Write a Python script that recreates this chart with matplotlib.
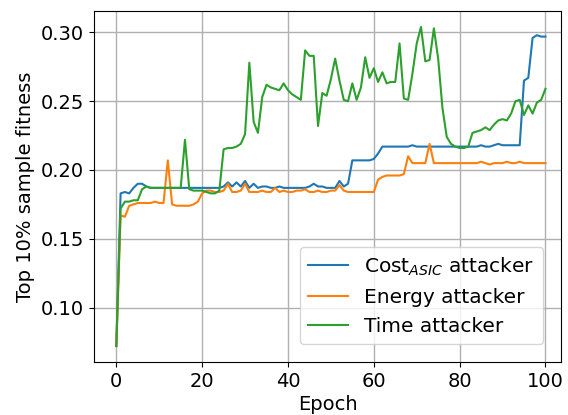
import numpy as np
import matplotlib
matplotlib.use("Agg")
import matplotlib.pyplot as plt

# 训练轮次
epochs = np.arange(0, 101)

# Cost_ASIC attacker
cost_asic = [
    0.072, 0.183, 0.184, 0.183, 0.187, 0.190, 0.190, 0.188, 0.187, 0.187,
    0.187, 0.187, 0.187, 0.187, 0.187, 0.187, 0.187, 0.187, 0.187, 0.187,
    0.187, 0.187, 0.187, 0.187, 0.187, 0.188, 0.191, 0.188, 0.191, 0.188,
    0.192, 0.187, 0.190, 0.187, 0.188, 0.188, 0.187, 0.187, 0.188, 0.187,
    0.187, 0.187, 0.187, 0.187, 0.187, 0.188, 0.190, 0.188, 0.188, 0.187,
    0.187, 0.187, 0.192, 0.188, 0.190, 0.207, 0.207, 0.207, 0.207, 0.207,
    0.208, 0.212, 0.217, 0.217, 0.217, 0.217, 0.217, 0.217, 0.217, 0.218,
    0.217, 0.217, 0.217, 0.217, 0.217, 0.217, 0.217, 0.217, 0.217, 0.217,
    0.217, 0.217, 0.217, 0.217, 0.217, 0.218, 0.217, 0.217, 0.218, 0.219,
    0.218, 0.218, 0.218, 0.218, 0.218, 0.265, 0.267, 0.296, 0.298, 0.297,
    0.297,
]

# Energy attacker
energy = [
    0.072, 0.167, 0.166, 0.174, 0.175, 0.176, 0.176, 0.176, 0.176, 0.177,
    0.176, 0.176, 0.207, 0.175, 0.174, 0.174, 0.174, 0.174, 0.175, 0.177,
    0.183, 0.185, 0.185, 0.184, 0.184, 0.185, 0.190, 0.184, 0.184, 0.185,
    0.190, 0.184, 0.184, 0.184, 0.185, 0.184, 0.184, 0.187, 0.184, 0.185,
    0.184, 0.184, 0.185, 0.185, 0.186, 0.184, 0.184, 0.185, 0.184, 0.184,
    0.185, 0.185, 0.189, 0.185, 0.184, 0.184, 0.184, 0.184, 0.184, 0.184,
    0.184, 0.193, 0.195, 0.196, 0.196, 0.196, 0.196, 0.197, 0.210, 0.205,
    0.205, 0.205, 0.205, 0.219, 0.205, 0.205, 0.205, 0.205, 0.205, 0.205,
    0.205, 0.205, 0.205, 0.205, 0.205, 0.206, 0.205, 0.204, 0.205, 0.205,
    0.205, 0.206, 0.205, 0.205, 0.206, 0.205, 0.205, 0.205, 0.205, 0.205,
    0.205,
]

# Time attacker
time_att = [
    0.072, 0.172, 0.177, 0.177, 0.178, 0.178, 0.186, 0.188, 0.187, 0.187,
    0.187, 0.187, 0.187, 0.187, 0.187, 0.187, 0.222, 0.186, 0.185, 0.185,
    0.185, 0.184, 0.183, 0.183, 0.185, 0.215, 0.216, 0.216, 0.217, 0.219,
    0.226, 0.278, 0.235, 0.227, 0.253, 0.262, 0.260, 0.259, 0.258, 0.263,
    0.258, 0.255, 0.253, 0.251, 0.287, 0.283, 0.283, 0.232, 0.256, 0.254,
    0.266, 0.281, 0.265, 0.251, 0.250, 0.263, 0.251, 0.260, 0.282, 0.267,
    0.274, 0.264, 0.271, 0.263, 0.264, 0.264, 0.292, 0.252, 0.251, 0.270,
    0.292, 0.304, 0.279, 0.280, 0.303, 0.281, 0.245, 0.224, 0.219, 0.217,
    0.216, 0.216, 0.217, 0.227, 0.228, 0.229, 0.231, 0.229, 0.233, 0.236,
    0.237, 0.236, 0.241, 0.250, 0.251, 0.240, 0.247, 0.241, 0.249, 0.251,
    0.259,
]

fig = plt.figure(figsize=(5.68, 4.15), dpi=100)
ax = fig.add_axes([0.1655, 0.1277, 0.822, 0.8458])

ax.plot(epochs, cost_asic, color="#1f77b4", lw=1.5, label="Cost$_{ASIC}$ attacker")
ax.plot(epochs, energy, color="#ff7f0e", lw=1.5, label="Energy attacker")
ax.plot(epochs, time_att, color="#2ca02c", lw=1.5, label="Time attacker")

ax.set_xlim(-5.2, 103.6)
ax.set_ylim(0.0604, 0.3156)
ax.set_xticks([0, 20, 40, 60, 80, 100])
ax.set_yticks([0.10, 0.15, 0.20, 0.25, 0.30])
ax.set_yticklabels(["0.10", "0.15", "0.20", "0.25", "0.30"])
ax.tick_params(labelsize=14)

ax.set_xlabel("Epoch", fontsize=14, labelpad=3)
ax.set_ylabel("Top 10% sample fitness", fontsize=14)

ax.grid(True, color="#b0b0b0", lw=1.0)
ax.legend(loc="lower right", fontsize=14.5, borderaxespad=0.9)

fig.savefig("out.png", dpi=100)
